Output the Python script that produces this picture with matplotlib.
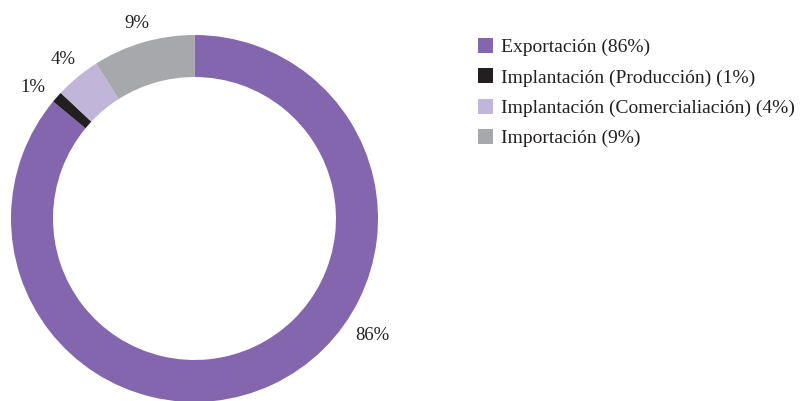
import matplotlib
matplotlib.use("Agg")
import matplotlib.pyplot as plt
from matplotlib.patches import Patch

# datos del gráfico
categorias = ["Exportación", "Implantación (Producción)",
              "Implantación (Comercialiación)", "Importación"]
porcentajes = [86, 1, 4, 9]
colores = ["#8366ae", "#231f20", "#c2b5da", "#a7a8ab"]

plt.rcParams['font.family'] = ['Liberation Serif', 'DejaVu Serif']
texto = "#231f20"

fig = plt.figure(figsize=(8, 4.01), dpi=100)
# eje cuadrado para el anillo
ax = fig.add_axes([11 / 800, -1 / 401, 367 / 800, 367 / 401])

wedges, etiquetas = ax.pie(
    porcentajes, colors=colores, startangle=90, counterclock=False,
    radius=1, labels=["%d%%" % p for p in porcentajes], labeldistance=1.12,
    wedgeprops=dict(width=0.229, linewidth=0),
    textprops=dict(fontsize=13.5, color=texto))
ax.set_xlim(-1, 1)
ax.set_ylim(-1, 1)
ax.set_aspect("equal")
ax.axis("off")
for t in etiquetas:
    t.set_clip_on(False)
    t.set_horizontalalignment("center")
    t.set_verticalalignment("center_baseline")
# la etiqueta grande va desplazada hacia la derecha
etiquetas[0].set_position((0.967, -0.627))
# separar un poco las etiquetas pequeñas
x, y = etiquetas[1].get_position()
etiquetas[1].set_position((x - 0.04, y - 0.015))
x, y = etiquetas[2].get_position()
etiquetas[2].set_position((x, y + 0.015))

handles = [Patch(facecolor=c, edgecolor="none") for c in colores]
nombres = ["%s (%d%%)" % (n, p) for n, p in zip(categorias, porcentajes)]
fig.legend(handles, nombres, loc="upper left", bbox_to_anchor=(0.597, 0.905),
           frameon=False, fontsize=14, handlelength=0.8, handleheight=0.8,
           handletextpad=0.42, labelspacing=0.62, labelcolor=texto,
           borderaxespad=0, borderpad=0)

fig.savefig("out.png", dpi=100)
